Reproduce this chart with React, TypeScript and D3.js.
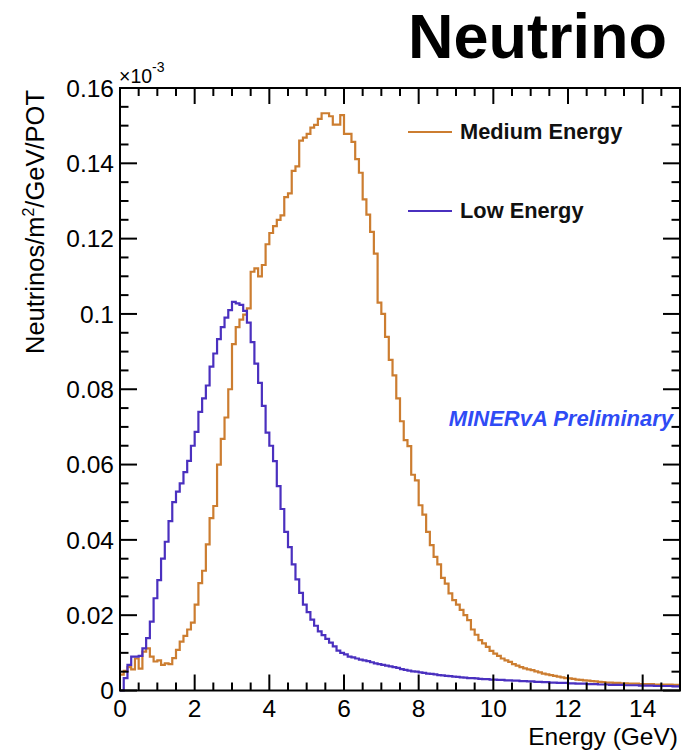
import React from "react";
import * as d3 from "d3";

// Histogram binning (GeV)
const BIN_LOW = 0;
const BIN_WIDTH = 0.1;

// Medium Energy flux (x1e-3 neutrinos/m^2/GeV/POT), 150 bins of 0.1 GeV
const mediumEnergy = [
  0.0042, 0.0052, 0.0062, 0.0056, 0.0085, 0.0058, 0.0103, 0.0112, 0.009, 0.0077,
  0.008, 0.0068, 0.0072, 0.007, 0.0086, 0.0108, 0.013, 0.0145, 0.0162, 0.018,
  0.0228, 0.0285, 0.0318, 0.0388, 0.0458, 0.049, 0.06, 0.0668, 0.0725, 0.08,
  0.092, 0.0965, 0.0985, 0.0998, 0.1015, 0.1112, 0.1121, 0.11, 0.113, 0.1185,
  0.1215, 0.1233, 0.125, 0.1262, 0.131, 0.132, 0.138, 0.1392, 0.146, 0.1468,
  0.1478, 0.1495, 0.1502, 0.1518, 0.1533, 0.1533, 0.1525, 0.1503, 0.1503, 0.1528,
  0.1478, 0.1478, 0.1457, 0.1411, 0.1375, 0.1304, 0.1264, 0.1218, 0.116, 0.103,
  0.1, 0.0939, 0.0878, 0.0837, 0.0776, 0.0715, 0.0665, 0.0649, 0.0573, 0.0558,
  0.0492, 0.0467, 0.0421, 0.0386, 0.0355, 0.0335, 0.0299, 0.0284, 0.0258, 0.024,
  0.0228, 0.0214, 0.02, 0.0187, 0.0162, 0.0148, 0.0134, 0.0125, 0.0116, 0.0105,
  0.0098, 0.0092, 0.0085, 0.008, 0.0076, 0.007, 0.0066, 0.0062, 0.0059, 0.0056,
  0.0054, 0.0051, 0.0048, 0.0045, 0.0043, 0.0041, 0.0039, 0.0037, 0.0035, 0.0033,
  0.0032, 0.0031, 0.0029, 0.0028, 0.0027, 0.0026, 0.0025, 0.0024, 0.0023, 0.0022,
  0.0021, 0.0021, 0.002, 0.002, 0.0019, 0.0019, 0.0018, 0.0018, 0.0018, 0.0017,
  0.0017, 0.0017, 0.0017, 0.0016, 0.0016, 0.0016, 0.0016, 0.0016, 0.0015, 0.0015,
];

// Low Energy flux
const lowEnergy = [
  0, 0.0033, 0.0068, 0.009, 0.009, 0.0092, 0.0112, 0.0139, 0.0183, 0.0245,
  0.0293, 0.035, 0.0395, 0.045, 0.05, 0.0528, 0.055, 0.058, 0.061, 0.065,
  0.0687, 0.074, 0.0776, 0.081, 0.086, 0.0895, 0.0933, 0.0965, 0.099, 0.101,
  0.1032, 0.1028, 0.1024, 0.1008, 0.0977, 0.0925, 0.0868, 0.0817, 0.0756, 0.0685,
  0.065, 0.0609, 0.0543, 0.0482, 0.0421, 0.0381, 0.0335, 0.0295, 0.0259, 0.0228,
  0.0208, 0.0188, 0.0172, 0.0157, 0.0147, 0.0137, 0.0127, 0.0117, 0.0106, 0.01,
  0.0096, 0.009, 0.0088, 0.0085, 0.0082, 0.008, 0.0078, 0.0075, 0.0072, 0.007,
  0.0068, 0.0066, 0.0064, 0.0062, 0.006, 0.0057, 0.0055, 0.0053, 0.0051, 0.005,
  0.0048, 0.0047, 0.0045, 0.0044, 0.0043, 0.0041, 0.004, 0.0039, 0.0038, 0.0037,
  0.0036, 0.0035, 0.0034, 0.0033, 0.0033, 0.0032, 0.0031, 0.003, 0.003, 0.0029,
  0.0029, 0.0028, 0.0028, 0.0027, 0.0027, 0.0026, 0.0026, 0.0025, 0.0025, 0.0024,
  0.0024, 0.0023, 0.0023, 0.0022, 0.0022, 0.0021, 0.0021, 0.002, 0.002, 0.002,
  0.0019, 0.0019, 0.0018, 0.0018, 0.0018, 0.0017, 0.0017, 0.0017, 0.0016, 0.0016,
  0.0016, 0.0015, 0.0015, 0.0015, 0.0015, 0.0014, 0.0014, 0.0014, 0.0014, 0.0013,
  0.0013, 0.0013, 0.0013, 0.0012, 0.0012, 0.0012, 0.0012, 0.0012, 0.0011, 0.0011,
];

const xMajorTicks = [0, 2, 4, 6, 8, 10, 12, 14];
const yMajorTicks = [0, 0.02, 0.04, 0.06, 0.08, 0.1, 0.12, 0.14, 0.16];
const yTickLabels = ["0", "0.02", "0.04", "0.06", "0.08", "0.1", "0.12", "0.14", "0.16"];

const seriesNames = ["Medium Energy", "Low Energy"];
const seriesColors = ["#cc7d30", "#4a30bf"];

const FONT = "'Liberation Sans', Arial, Helvetica, sans-serif";

export default function App() {
  const W = 684;
  const H = 750;
  const left = 120;
  const right = 680;
  const top = 88;
  const bottom = 690.5;

  const x = d3.scaleLinear().domain([0, 15]).range([left, right]);
  const y = d3.scaleLinear().domain([0, 0.16]).range([bottom, top]);

  const toPoints = (vals: number[]) => {
    const pts: [number, number][] = vals.map((v, i) => [BIN_LOW + i * BIN_WIDTH, v]);
    pts.push([BIN_LOW + vals.length * BIN_WIDTH, vals[vals.length - 1]]);
    return pts;
  };
  const line = d3
    .line<[number, number]>()
    .x((d) => x(d[0]))
    .y((d) => y(d[1]))
    .curve(d3.curveStepAfter);

  const xMinor = d3.range(0, 15.001, 0.5).filter((v) => !xMajorTicks.includes(v));
  const yMinor = d3.range(0, 0.1601, 0.005).filter(
    (v) => !yMajorTicks.some((m) => Math.abs(m - v) < 1e-9)
  );

  const majorLen = 17;
  const minorLen = 8.5;
  const xMajLen = 16;
  const xMinLen = 8;

  return (
    <svg
      width={W}
      height={H}
      style={{ position: "absolute", left: 0, top: 0, background: "#fff" }}
      fontFamily={FONT}
    >
      <rect x={0} y={0} width={W} height={H} fill="#fff" />

      {/* Title */}
      <text x={667} y={58} textAnchor="end" fontSize={63} fontWeight="bold" fill="#000">
        Neutrino
      </text>

      {/* Histograms */}
      <path d={line(toPoints(mediumEnergy)) || ""} fill="none" stroke={seriesColors[0]} strokeWidth={2.2} />
      <path d={line(toPoints(lowEnergy)) || ""} fill="none" stroke={seriesColors[1]} strokeWidth={2.2} />

      {/* Frame */}
      <rect x={left} y={top} width={right - left} height={bottom - top} fill="none" stroke="#000" strokeWidth={2} />

      {/* X ticks bottom & top */}
      {xMajorTicks.map((t) => (
        <g key={"xM" + t}>
          <line x1={x(t)} x2={x(t)} y1={bottom} y2={bottom - xMajLen} stroke="#000" strokeWidth={2} />
          <line x1={x(t)} x2={x(t)} y1={top} y2={top + xMajLen} stroke="#000" strokeWidth={2} />
          <text x={x(t)} y={717} textAnchor="middle" fontSize={24.5} fill="#000">
            {t}
          </text>
        </g>
      ))}
      {xMinor.map((t) => (
        <g key={"xm" + t}>
          <line x1={x(t)} x2={x(t)} y1={bottom} y2={bottom - xMinLen} stroke="#000" strokeWidth={2} />
          <line x1={x(t)} x2={x(t)} y1={top} y2={top + xMinLen} stroke="#000" strokeWidth={2} />
        </g>
      ))}

      {/* Y ticks left & right */}
      {yMajorTicks.map((t, i) => (
        <g key={"yM" + t}>
          <line x1={left} x2={left + majorLen} y1={y(t)} y2={y(t)} stroke="#000" strokeWidth={2} />
          <line x1={right} x2={right - majorLen} y1={y(t)} y2={y(t)} stroke="#000" strokeWidth={2} />
          <text x={114} y={y(t) + 8.7} textAnchor="end" fontSize={24.5} fill="#000">
            {yTickLabels[i]}
          </text>
        </g>
      ))}
      {yMinor.map((t) => (
        <g key={"ym" + t}>
          <line x1={left} x2={left + minorLen} y1={y(t)} y2={y(t)} stroke="#000" strokeWidth={2} />
          <line x1={right} x2={right - minorLen} y1={y(t)} y2={y(t)} stroke="#000" strokeWidth={2} />
        </g>
      ))}

      {/* Exponent */}
      <text x={119} y={83} fontSize={19.5} fill="#000">
        ×10
        <tspan fontSize={14} dy={-11}>-3</tspan>
      </text>

      {/* Axis titles */}
      <text x={678} y={745} textAnchor="end" fontSize={24.5} fill="#000">
        Energy (GeV)
      </text>
      <text transform={`translate(44, ${top + 2}) rotate(-90)`} textAnchor="end" fontSize={25.5} fill="#000">
        Neutrinos/m
        <tspan fontSize={16} dy={-10}>2</tspan>
        <tspan dy={10}>/GeV/POT</tspan>
      </text>

      {/* Legend */}
      {seriesNames.map((name, i) => (
        <g key={name}>
          <line x1={408} x2={452} y1={132 + i * 79} y2={132 + i * 79} stroke={seriesColors[i]} strokeWidth={2} />
          <text x={460} y={139 + i * 79} fontSize={21.8} fontWeight="bold" fill="#111">
            {name}
          </text>
        </g>
      ))}

      {/* Watermark */}
      <text x={673} y={425.5} textAnchor="end" fontSize={22} fontWeight="bold" fontStyle="italic" fill="#2f4bf5">
        MINERvA Preliminary
      </text>
    </svg>
  );
}
